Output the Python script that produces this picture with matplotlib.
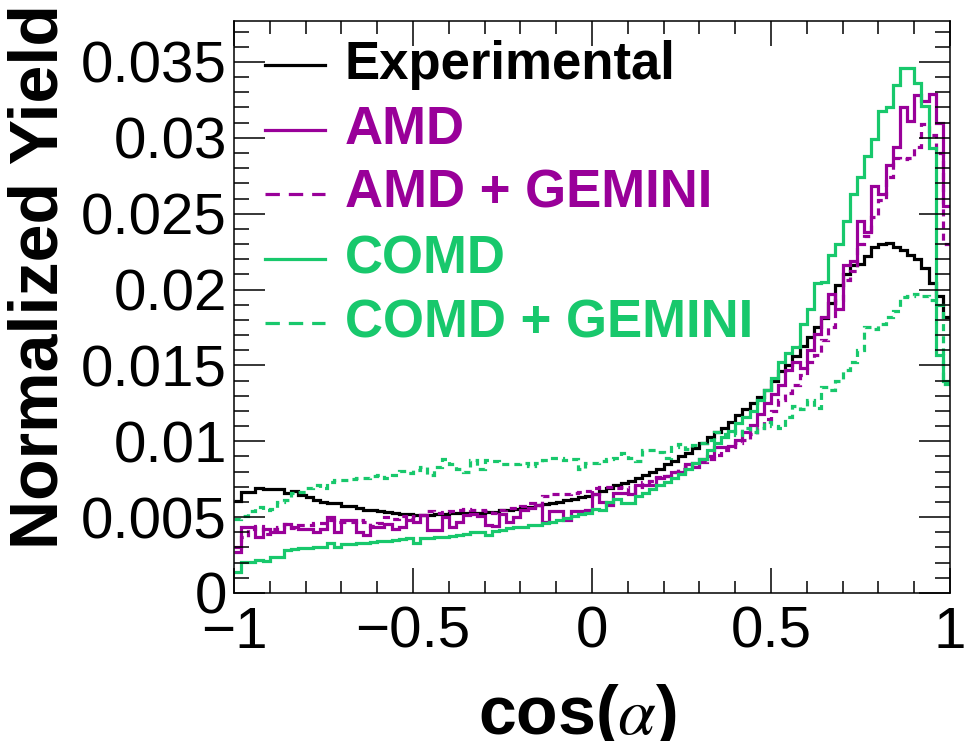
import numpy as np
import matplotlib
matplotlib.use("Agg")
import matplotlib.pyplot as plt
from matplotlib.lines import Line2D
from matplotlib.ticker import MultipleLocator, FuncFormatter

plt.rcParams['font.family'] = ['Liberation Sans', 'DejaVu Sans']
plt.rcParams['mathtext.fontset'] = 'stix'

# ---- data (values in units of 1e-3), 100 bins over cos(alpha) in [-1, 1] ----
x_min, x_max, n_bins = -1.0, 1.0, 100

experimental = [
    6.07, 6.67, 6.67, 6.9, 6.85, 6.85, 6.85, 6.56, 6.7, 6.45,
    6.3, 6.1, 6.0, 5.9, 5.9, 5.75, 5.75, 5.6, 5.5, 5.45,
    5.4, 5.35, 5.3, 5.2, 5.2, 5.15, 5.15, 5.15, 5.2, 5.2,
    5.25, 5.25, 5.3, 5.3, 5.3, 5.35, 5.35, 5.45, 5.5, 5.55,
    5.6, 5.7, 5.8, 5.85, 5.95, 6.0, 6.1, 6.2, 6.3, 6.4,
    6.55, 6.75, 6.9, 7.1, 7.25, 7.4, 7.6, 7.8, 8.0, 8.2,
    8.5, 8.7, 9.0, 9.25, 9.55, 9.9, 10.25, 10.6, 10.9, 11.3,
    11.7, 12.1, 12.5, 12.9, 13.4, 14.0, 14.6, 15.0, 15.6, 16.3,
    16.9, 17.5, 18.1, 19.1, 20.3, 21.0, 21.6, 21.7, 22.2, 22.8,
    23.0, 23.1, 22.8, 22.6, 22.3, 22.0, 21.4, 20.4, 19.6, 18.2]

amd = [
    2.72, 4.36, 4.36, 3.7, 4.25, 4.03, 4.03, 4.54, 4.36, 4.25,
    4.25, 4.03, 4.25, 5.0, 4.03, 4.8, 4.8, 4.03, 3.8, 4.36,
    4.36, 4.58, 4.25, 4.36, 4.8, 4.7, 5.13, 4.13, 4.13, 5.0,
    4.36, 4.7, 5.13, 5.2, 5.1, 4.5, 4.4, 5.2, 4.7, 5.0,
    5.5, 5.6, 5.8, 4.7, 5.4, 5.4, 4.8, 5.4, 5.4, 5.5,
    6.5, 6.0, 5.8, 6.6, 6.6, 6.5, 7.1, 7.1, 7.1, 7.6,
    7.7, 8.0, 8.0, 8.5, 8.3, 8.8, 9.0, 9.6, 9.6, 9.7,
    10.07, 10.6, 11.05, 11.8, 12.5, 13.1, 13.7, 14.7, 15.2, 14.8,
    16.0, 17.1, 18.2, 19.7, 18.7, 21.6, 21.9, 24.5, 23.8, 26.8,
    26.3, 28.2, 29.4, 32.0, 31.1, 32.8, 32.4, 32.9, 31.0, 25.5]

amd_gemini = [
    3.0, 3.7, 4.2, 4.4, 3.9, 4.2, 4.35, 4.55, 4.3, 4.45,
    4.45, 4.6, 4.6, 4.8, 4.7, 4.7, 4.7, 4.8, 4.7, 4.4,
    4.6, 5.0, 4.9, 5.1, 4.9, 5.1, 5.15, 5.4, 5.3, 5.35,
    5.4, 5.5, 5.55, 5.5, 5.5, 5.4, 5.3, 5.5, 5.6, 5.6,
    5.75, 5.9, 5.8, 6.4, 6.5, 6.55, 6.5, 6.6, 6.65, 6.7,
    6.9, 7.0, 7.0, 6.95, 7.0, 6.6, 7.0, 7.3, 7.35, 7.65,
    7.7, 8.0, 8.2, 8.35, 8.6, 8.65, 8.86, 9.1, 9.4, 9.6,
    9.9, 10.1, 10.5, 10.9, 11.5, 12.0, 12.7, 13.2, 13.7, 14.4,
    15.2, 15.7, 16.7, 17.5, 19.3, 20.6, 21.2, 23.0, 23.5, 24.8,
    25.9, 27.4, 28.7, 28.6, 28.7, 29.4, 30.9, 30.2, 29.0, 23.0]

comd = [
    1.4, 2.06, 2.06, 2.17, 2.1, 2.39, 2.39, 2.83, 2.9, 2.94,
    2.94, 3.0, 3.05, 3.27, 3.05, 3.2, 3.25, 3.3, 3.3, 3.35,
    3.4, 3.45, 3.5, 3.55, 3.6, 3.27, 3.6, 3.65, 3.7, 3.72,
    3.75, 3.8, 3.9, 4.0, 4.0, 3.8, 4.1, 4.15, 4.3, 4.35,
    4.35, 4.45, 4.45, 4.6, 4.7, 4.8, 4.95, 5.05, 5.2, 5.3,
    5.55, 5.5, 6.0, 6.2, 5.9, 5.9, 6.4, 6.6, 6.85, 7.1,
    7.3, 7.6, 7.85, 8.2, 8.55, 8.85, 9.4, 9.9, 10.3, 10.7,
    11.2, 11.6, 12.0, 12.7, 13.4, 14.2, 15.2, 15.8, 16.2, 17.7,
    18.7, 20.4, 20.5, 22.3, 23.0, 24.5, 26.3, 27.4, 28.8, 29.9,
    31.8, 32.0, 33.5, 34.6, 34.6, 33.6, 32.1, 29.3, 15.7, 14.0]

comd_gemini = [
    4.9, 5.1, 5.4, 5.68, 5.5, 5.55, 6.0, 6.1, 6.56, 6.65,
    6.89, 7.1, 6.95, 7.32, 7.43, 7.45, 7.5, 7.55, 7.55, 7.7,
    7.76, 7.6, 7.8, 8.05, 7.9, 8.1, 8.3, 7.8, 8.3, 8.85,
    8.5, 8.2, 7.95, 8.75, 8.2, 8.75, 8.7, 8.5, 8.5, 8.5,
    8.6, 8.4, 8.6, 8.75, 8.9, 8.9, 8.75, 8.85, 8.2, 8.6,
    8.6, 8.7, 8.8, 8.9, 9.2, 8.9, 8.7, 9.4, 9.45, 9.3,
    8.9, 9.6, 9.85, 9.5, 9.75, 9.9, 10.07, 10.6, 10.5, 10.7,
    10.4, 10.9, 10.6, 10.9, 11.3, 11.0, 10.9, 11.6, 12.3, 12.1,
    12.7, 12.2, 13.6, 13.4, 14.0, 14.7, 15.2, 16.0, 17.5, 17.4,
    17.7, 18.2, 18.6, 19.5, 19.6, 19.7, 19.6, 19.3, 19.0, 13.8]

labels = ["Experimental", "AMD", "AMD + GEMINI", "COMD", "COMD + GEMINI"]
x_ticks = [-1, -0.5, 0, 0.5, 1]
y_ticks = [0, 0.005, 0.01, 0.015, 0.02, 0.025, 0.03, 0.035]

# ---- styling ----
BLACK = "#000000"
PURPLE = "#990099"
GREEN = "#18c86c"
DASH = (0, (2.2, 1.6))
LEG_DASH = (0, (4.5, 2.8))
LW = 2.3
styles = [
    (experimental, BLACK, "-"),
    (amd, PURPLE, "-"),
    (amd_gemini, PURPLE, DASH),
    (comd, GREEN, "-"),
    (comd_gemini, GREEN, DASH),
]

W, H = 967, 741
fig = plt.figure(figsize=(W / 100, H / 100), dpi=100)
L, R, T, B = 234, 950, 21, 593
ax = fig.add_axes([L / W, 1 - B / H, (R - L) / W, (B - T) / H])

edges = np.linspace(x_min, x_max, n_bins + 1)
for vals, col, ls in styles:
    ax.stairs(np.asarray(vals) * 1e-3, edges, baseline=None, color=col,
              linestyle=ls, linewidth=LW)

ax.set_xlim(x_min, x_max)
ax.set_ylim(0, 0.0377)
ax.set_xticks(x_ticks)
ax.set_yticks(y_ticks)
ax.xaxis.set_minor_locator(MultipleLocator(0.1))
ax.yaxis.set_minor_locator(MultipleLocator(0.001))
ax.yaxis.set_major_formatter(FuncFormatter(lambda v, p: "0" if v == 0 else ("%g" % v)))
ax.xaxis.set_major_formatter(FuncFormatter(lambda v, p: ("%g" % v).replace("-", "\u2212")))

for sp in ax.spines.values():
    sp.set_linewidth(1.1)
ax.tick_params(axis='both', which='both', direction='in', top=True, right=True, width=1.1)
ax.tick_params(axis='x', which='major', length=18, labelsize=42, pad=9)
ax.tick_params(axis='x', which='minor', length=9)
ax.tick_params(axis='y', which='major', length=22, labelsize=42, pad=5)
ax.tick_params(axis='y', which='minor', length=11)

fig.text(40 / W, 1 - 277 / H, "Normalized Yield", rotation=90, ha='center', va='center',
         fontsize=49, fontweight='bold')
fig.text(577 / W, 1 - 716 / H, r"cos($\alpha$)", ha='center', va='center',
         fontsize=49, fontweight='bold')

# ---- legend ----
leg_rows = [65, 130, 194, 259, 323]
leg_colors = [BLACK, PURPLE, PURPLE, GREEN, GREEN]
leg_ls = ["-", "-", LEG_DASH, "-", LEG_DASH]
for yy, lab, col, ls in zip(leg_rows, labels, leg_colors, leg_ls):
    fig.add_artist(Line2D([265 / W, 325 / W], [1 - yy / H, 1 - yy / H], color=col,
                          linestyle=ls, linewidth=LW, transform=fig.transFigure))
    fig.text(345 / W, 1 - yy / H, lab, ha='left', va='center', fontsize=38,
             fontweight='bold', color=col)

fig.savefig("out.png", dpi=100)
